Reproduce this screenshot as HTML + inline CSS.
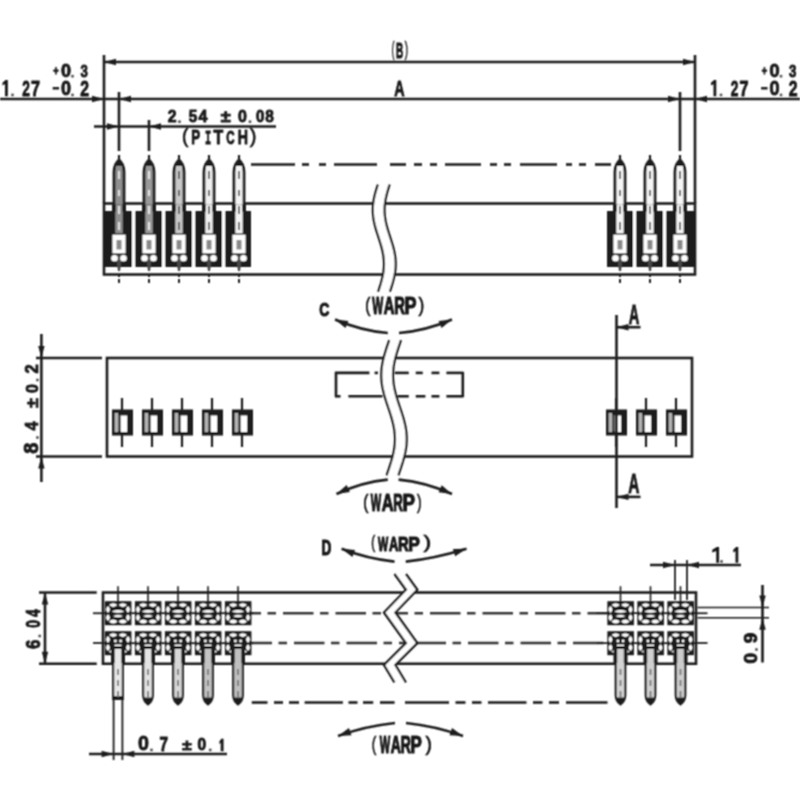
<!DOCTYPE html>
<html><head><meta charset="utf-8"><style>
html,body{margin:0;padding:0;background:#fff;}
svg{display:block;}
</style></head><body>
<svg width="800" height="800" viewBox="0 0 800 800">
<defs><filter id="bl" x="0" y="0" width="800" height="800" filterUnits="userSpaceOnUse"><feConvolveMatrix order="3" kernelMatrix="1 2 1 2 4 2 1 2 1" divisor="16" edgeMode="none" preserveAlpha="false"/></filter></defs>
<rect width="800" height="800" fill="#fff"/>
<g filter="url(#bl)">
<line x1="104" y1="55" x2="104" y2="203" stroke="#1c1c1c" stroke-width="2.6" />
<line x1="695" y1="55" x2="695" y2="203" stroke="#1c1c1c" stroke-width="2.6" />
<line x1="104" y1="62" x2="695" y2="62" stroke="#1c1c1c" stroke-width="2.6" />
<polygon points="104.00,62.00 116.00,58.80 116.00,65.20" fill="#1a1a1a" stroke="none" stroke-width="0"/>
<polygon points="695.00,62.00 683.00,65.20 683.00,58.80" fill="#1a1a1a" stroke="none" stroke-width="0"/>
<line x1="0" y1="99" x2="800" y2="99" stroke="#1c1c1c" stroke-width="2.6" />
<polygon points="104.00,99.00 92.00,102.20 92.00,95.80" fill="#1a1a1a" stroke="none" stroke-width="0"/>
<polygon points="119.00,99.00 131.00,95.80 131.00,102.20" fill="#1a1a1a" stroke="none" stroke-width="0"/>
<polygon points="680.00,99.00 668.00,102.20 668.00,95.80" fill="#1a1a1a" stroke="none" stroke-width="0"/>
<polygon points="695.00,99.00 707.00,95.80 707.00,102.20" fill="#1a1a1a" stroke="none" stroke-width="0"/>
<line x1="119" y1="92" x2="119" y2="151" stroke="#1c1c1c" stroke-width="2.6" />
<line x1="680" y1="92" x2="680" y2="151" stroke="#1c1c1c" stroke-width="2.6" />
<line x1="149" y1="120" x2="149" y2="151" stroke="#1c1c1c" stroke-width="2.6" />
<line x1="94" y1="126.5" x2="276" y2="126.5" stroke="#1c1c1c" stroke-width="2.6" />
<polygon points="119.00,126.50 107.00,129.70 107.00,123.30" fill="#1a1a1a" stroke="none" stroke-width="0"/>
<polygon points="149.00,126.50 161.00,123.30 161.00,129.70" fill="#1a1a1a" stroke="none" stroke-width="0"/>
<line x1="251" y1="164.5" x2="295" y2="164.5" stroke="#1c1c1c" stroke-width="2.6" />
<line x1="302" y1="164.5" x2="309" y2="164.5" stroke="#1c1c1c" stroke-width="2.6" />
<line x1="319" y1="164.5" x2="326" y2="164.5" stroke="#1c1c1c" stroke-width="2.6" />
<line x1="334" y1="164.5" x2="377" y2="164.5" stroke="#1c1c1c" stroke-width="2.6" />
<line x1="390" y1="164.5" x2="406" y2="164.5" stroke="#1c1c1c" stroke-width="2.6" />
<line x1="414" y1="164.5" x2="422" y2="164.5" stroke="#1c1c1c" stroke-width="2.6" />
<line x1="430" y1="164.5" x2="437" y2="164.5" stroke="#1c1c1c" stroke-width="2.6" />
<line x1="445" y1="164.5" x2="481" y2="164.5" stroke="#1c1c1c" stroke-width="2.6" />
<line x1="490" y1="164.5" x2="497" y2="164.5" stroke="#1c1c1c" stroke-width="2.6" />
<line x1="504" y1="164.5" x2="511" y2="164.5" stroke="#1c1c1c" stroke-width="2.6" />
<line x1="520" y1="164.5" x2="557" y2="164.5" stroke="#1c1c1c" stroke-width="2.6" />
<line x1="566" y1="164.5" x2="572" y2="164.5" stroke="#1c1c1c" stroke-width="2.6" />
<line x1="579" y1="164.5" x2="586" y2="164.5" stroke="#1c1c1c" stroke-width="2.6" />
<line x1="595" y1="164.5" x2="611" y2="164.5" stroke="#1c1c1c" stroke-width="2.6" />
<rect x="104" y="203.5" width="591" height="71" fill="none" stroke="#1c1c1c" stroke-width="2.6" />
<rect x="104" y="211" width="147" height="56" fill="#1a1a1a" stroke="none" stroke-width="2.6" />
<rect x="132" y="211" width="3.2" height="56" fill="#fff" stroke="none" stroke-width="2.6" />
<rect x="162" y="211" width="3.2" height="56" fill="#fff" stroke="none" stroke-width="2.6" />
<rect x="192" y="211" width="3.2" height="56" fill="#fff" stroke="none" stroke-width="2.6" />
<rect x="222" y="211" width="3.2" height="56" fill="#fff" stroke="none" stroke-width="2.6" />
<rect x="607" y="211" width="87" height="56" fill="#1a1a1a" stroke="none" stroke-width="2.6" />
<rect x="633" y="211" width="3.2" height="56" fill="#fff" stroke="none" stroke-width="2.6" />
<rect x="663" y="211" width="3.2" height="56" fill="#fff" stroke="none" stroke-width="2.6" />
<path d="M114,234 L114,172 Q114,164 119,160 Q124,164 124,172 L124,234" stroke="#1c1c1c" stroke-width="2.8" fill="#8f8f8f" />
<polygon points="115.00,166.00 119.00,160.50 123.00,166.00" fill="#1a1a1a" stroke="none" stroke-width="0"/>
<line x1="119" y1="155" x2="119" y2="162" stroke="#1c1c1c" stroke-width="2.2" />
<rect x="112" y="204.5" width="14" height="7" fill="#1a1a1a" stroke="none" stroke-width="2.6" />
<rect x="115.8" y="204.5" width="6.4" height="29" fill="#8f8f8f" stroke="none" stroke-width="2.6" />
<line x1="119" y1="171" x2="119" y2="179" stroke="#e8e8e8" stroke-width="1.8" />
<line x1="119" y1="190" x2="119" y2="196" stroke="#e8e8e8" stroke-width="1.8" />
<line x1="119" y1="206" x2="119" y2="214" stroke="#e8e8e8" stroke-width="1.8" />
<line x1="119" y1="222" x2="119" y2="230" stroke="#e8e8e8" stroke-width="1.8" />
<rect x="111.8" y="234" width="14.4" height="20" fill="#fff" stroke="#1a1a1a" stroke-width="1.2" />
<rect x="116.5" y="240" width="5" height="9.5" fill="#888" stroke="none" stroke-width="2.6" />
<polygon points="115.50,255.00 122.50,255.00 120.00,271.00 118.00,271.00" fill="#444" stroke="none" stroke-width="0"/>
<circle cx="114.5" cy="258.3" r="3.3" fill="#fff"/>
<circle cx="123.5" cy="258.3" r="3.3" fill="#fff"/>
<line x1="119" y1="275" x2="119" y2="277" stroke="#1c1c1c" stroke-width="2" />
<line x1="119" y1="279" x2="119" y2="283" stroke="#1c1c1c" stroke-width="2" />
<path d="M144,234 L144,172 Q144,164 149,160 Q154,164 154,172 L154,234" stroke="#1c1c1c" stroke-width="2.8" fill="#999" />
<polygon points="145.00,166.00 149.00,160.50 153.00,166.00" fill="#1a1a1a" stroke="none" stroke-width="0"/>
<line x1="149" y1="155" x2="149" y2="162" stroke="#1c1c1c" stroke-width="2.2" />
<rect x="142" y="204.5" width="14" height="7" fill="#1a1a1a" stroke="none" stroke-width="2.6" />
<rect x="145.8" y="204.5" width="6.4" height="29" fill="#999" stroke="none" stroke-width="2.6" />
<line x1="149" y1="171" x2="149" y2="179" stroke="#eee" stroke-width="1.8" />
<line x1="149" y1="190" x2="149" y2="196" stroke="#eee" stroke-width="1.8" />
<line x1="149" y1="206" x2="149" y2="214" stroke="#eee" stroke-width="1.8" />
<line x1="149" y1="222" x2="149" y2="230" stroke="#eee" stroke-width="1.8" />
<rect x="141.8" y="234" width="14.4" height="20" fill="#fff" stroke="#1a1a1a" stroke-width="1.2" />
<rect x="146.5" y="240" width="5" height="9.5" fill="#888" stroke="none" stroke-width="2.6" />
<polygon points="145.50,255.00 152.50,255.00 150.00,271.00 148.00,271.00" fill="#444" stroke="none" stroke-width="0"/>
<circle cx="144.5" cy="258.3" r="3.3" fill="#fff"/>
<circle cx="153.5" cy="258.3" r="3.3" fill="#fff"/>
<line x1="149" y1="275" x2="149" y2="277" stroke="#1c1c1c" stroke-width="2" />
<line x1="149" y1="279" x2="149" y2="283" stroke="#1c1c1c" stroke-width="2" />
<path d="M174,234 L174,172 Q174,164 179,160 Q184,164 184,172 L184,234" stroke="#1c1c1c" stroke-width="2.8" fill="#c8c8c8" />
<polygon points="175.00,166.00 179.00,160.50 183.00,166.00" fill="#1a1a1a" stroke="none" stroke-width="0"/>
<line x1="179" y1="155" x2="179" y2="162" stroke="#1c1c1c" stroke-width="2.2" />
<rect x="172" y="204.5" width="14" height="7" fill="#1a1a1a" stroke="none" stroke-width="2.6" />
<rect x="175.8" y="204.5" width="6.4" height="29" fill="#c8c8c8" stroke="none" stroke-width="2.6" />
<line x1="179" y1="171" x2="179" y2="179" stroke="#555" stroke-width="1.8" />
<line x1="179" y1="190" x2="179" y2="196" stroke="#555" stroke-width="1.8" />
<line x1="179" y1="206" x2="179" y2="214" stroke="#555" stroke-width="1.8" />
<line x1="179" y1="222" x2="179" y2="230" stroke="#555" stroke-width="1.8" />
<rect x="171.8" y="234" width="14.4" height="20" fill="#fff" stroke="#1a1a1a" stroke-width="1.2" />
<rect x="176.5" y="240" width="5" height="9.5" fill="#888" stroke="none" stroke-width="2.6" />
<polygon points="175.50,255.00 182.50,255.00 180.00,271.00 178.00,271.00" fill="#444" stroke="none" stroke-width="0"/>
<circle cx="174.5" cy="258.3" r="3.3" fill="#fff"/>
<circle cx="183.5" cy="258.3" r="3.3" fill="#fff"/>
<line x1="179" y1="275" x2="179" y2="277" stroke="#1c1c1c" stroke-width="2" />
<line x1="179" y1="279" x2="179" y2="283" stroke="#1c1c1c" stroke-width="2" />
<path d="M204,234 L204,172 Q204,164 209,160 Q214,164 214,172 L214,234" stroke="#1c1c1c" stroke-width="2.8" fill="#f0f0f0" />
<polygon points="205.00,166.00 209.00,160.50 213.00,166.00" fill="#1a1a1a" stroke="none" stroke-width="0"/>
<line x1="209" y1="155" x2="209" y2="162" stroke="#1c1c1c" stroke-width="2.2" />
<rect x="202" y="204.5" width="14" height="7" fill="#1a1a1a" stroke="none" stroke-width="2.6" />
<rect x="205.8" y="204.5" width="6.4" height="29" fill="#f0f0f0" stroke="none" stroke-width="2.6" />
<line x1="209" y1="171" x2="209" y2="179" stroke="#555" stroke-width="1.8" />
<line x1="209" y1="190" x2="209" y2="196" stroke="#555" stroke-width="1.8" />
<line x1="209" y1="206" x2="209" y2="214" stroke="#555" stroke-width="1.8" />
<line x1="209" y1="222" x2="209" y2="230" stroke="#555" stroke-width="1.8" />
<rect x="201.8" y="234" width="14.4" height="20" fill="#fff" stroke="#1a1a1a" stroke-width="1.2" />
<rect x="206.5" y="240" width="5" height="9.5" fill="#888" stroke="none" stroke-width="2.6" />
<polygon points="205.50,255.00 212.50,255.00 210.00,271.00 208.00,271.00" fill="#444" stroke="none" stroke-width="0"/>
<circle cx="204.5" cy="258.3" r="3.3" fill="#fff"/>
<circle cx="213.5" cy="258.3" r="3.3" fill="#fff"/>
<line x1="209" y1="275" x2="209" y2="277" stroke="#1c1c1c" stroke-width="2" />
<line x1="209" y1="279" x2="209" y2="283" stroke="#1c1c1c" stroke-width="2" />
<path d="M234,234 L234,172 Q234,164 239,160 Q244,164 244,172 L244,234" stroke="#1c1c1c" stroke-width="2.8" fill="#f4f4f4" />
<polygon points="235.00,166.00 239.00,160.50 243.00,166.00" fill="#1a1a1a" stroke="none" stroke-width="0"/>
<line x1="239" y1="155" x2="239" y2="162" stroke="#1c1c1c" stroke-width="2.2" />
<rect x="232" y="204.5" width="14" height="7" fill="#1a1a1a" stroke="none" stroke-width="2.6" />
<rect x="235.8" y="204.5" width="6.4" height="29" fill="#f4f4f4" stroke="none" stroke-width="2.6" />
<line x1="239" y1="171" x2="239" y2="179" stroke="#555" stroke-width="1.8" />
<line x1="239" y1="190" x2="239" y2="196" stroke="#555" stroke-width="1.8" />
<line x1="239" y1="206" x2="239" y2="214" stroke="#555" stroke-width="1.8" />
<line x1="239" y1="222" x2="239" y2="230" stroke="#555" stroke-width="1.8" />
<rect x="231.8" y="234" width="14.4" height="20" fill="#fff" stroke="#1a1a1a" stroke-width="1.2" />
<rect x="236.5" y="240" width="5" height="9.5" fill="#888" stroke="none" stroke-width="2.6" />
<polygon points="235.50,255.00 242.50,255.00 240.00,271.00 238.00,271.00" fill="#444" stroke="none" stroke-width="0"/>
<circle cx="234.5" cy="258.3" r="3.3" fill="#fff"/>
<circle cx="243.5" cy="258.3" r="3.3" fill="#fff"/>
<line x1="239" y1="275" x2="239" y2="277" stroke="#1c1c1c" stroke-width="2" />
<line x1="239" y1="279" x2="239" y2="283" stroke="#1c1c1c" stroke-width="2" />
<path d="M615,234 L615,172 Q615,164 620,160 Q625,164 625,172 L625,234" stroke="#1c1c1c" stroke-width="2.8" fill="#f6f6f6" />
<polygon points="616.00,166.00 620.00,160.50 624.00,166.00" fill="#1a1a1a" stroke="none" stroke-width="0"/>
<line x1="620" y1="155" x2="620" y2="162" stroke="#1c1c1c" stroke-width="2.2" />
<rect x="613" y="204.5" width="14" height="7" fill="#1a1a1a" stroke="none" stroke-width="2.6" />
<rect x="616.8" y="204.5" width="6.4" height="29" fill="#f6f6f6" stroke="none" stroke-width="2.6" />
<line x1="620" y1="171" x2="620" y2="179" stroke="#555" stroke-width="1.8" />
<line x1="620" y1="190" x2="620" y2="196" stroke="#555" stroke-width="1.8" />
<line x1="620" y1="206" x2="620" y2="214" stroke="#555" stroke-width="1.8" />
<line x1="620" y1="222" x2="620" y2="230" stroke="#555" stroke-width="1.8" />
<rect x="612.8" y="234" width="14.4" height="20" fill="#fff" stroke="#1a1a1a" stroke-width="1.2" />
<rect x="617.5" y="240" width="5" height="9.5" fill="#888" stroke="none" stroke-width="2.6" />
<polygon points="616.50,255.00 623.50,255.00 621.00,271.00 619.00,271.00" fill="#444" stroke="none" stroke-width="0"/>
<circle cx="615.5" cy="258.3" r="3.3" fill="#fff"/>
<circle cx="624.5" cy="258.3" r="3.3" fill="#fff"/>
<line x1="620" y1="275" x2="620" y2="277" stroke="#1c1c1c" stroke-width="2" />
<line x1="620" y1="279" x2="620" y2="283" stroke="#1c1c1c" stroke-width="2" />
<path d="M645,234 L645,172 Q645,164 650,160 Q655,164 655,172 L655,234" stroke="#1c1c1c" stroke-width="2.8" fill="#f6f6f6" />
<polygon points="646.00,166.00 650.00,160.50 654.00,166.00" fill="#1a1a1a" stroke="none" stroke-width="0"/>
<line x1="650" y1="155" x2="650" y2="162" stroke="#1c1c1c" stroke-width="2.2" />
<rect x="643" y="204.5" width="14" height="7" fill="#1a1a1a" stroke="none" stroke-width="2.6" />
<rect x="646.8" y="204.5" width="6.4" height="29" fill="#f6f6f6" stroke="none" stroke-width="2.6" />
<line x1="650" y1="171" x2="650" y2="179" stroke="#555" stroke-width="1.8" />
<line x1="650" y1="190" x2="650" y2="196" stroke="#555" stroke-width="1.8" />
<line x1="650" y1="206" x2="650" y2="214" stroke="#555" stroke-width="1.8" />
<line x1="650" y1="222" x2="650" y2="230" stroke="#555" stroke-width="1.8" />
<rect x="642.8" y="234" width="14.4" height="20" fill="#fff" stroke="#1a1a1a" stroke-width="1.2" />
<rect x="647.5" y="240" width="5" height="9.5" fill="#888" stroke="none" stroke-width="2.6" />
<polygon points="646.50,255.00 653.50,255.00 651.00,271.00 649.00,271.00" fill="#444" stroke="none" stroke-width="0"/>
<circle cx="645.5" cy="258.3" r="3.3" fill="#fff"/>
<circle cx="654.5" cy="258.3" r="3.3" fill="#fff"/>
<line x1="650" y1="275" x2="650" y2="277" stroke="#1c1c1c" stroke-width="2" />
<line x1="650" y1="279" x2="650" y2="283" stroke="#1c1c1c" stroke-width="2" />
<path d="M675,234 L675,172 Q675,164 680,160 Q685,164 685,172 L685,234" stroke="#1c1c1c" stroke-width="2.8" fill="#f6f6f6" />
<polygon points="676.00,166.00 680.00,160.50 684.00,166.00" fill="#1a1a1a" stroke="none" stroke-width="0"/>
<line x1="680" y1="155" x2="680" y2="162" stroke="#1c1c1c" stroke-width="2.2" />
<rect x="673" y="204.5" width="14" height="7" fill="#1a1a1a" stroke="none" stroke-width="2.6" />
<rect x="676.8" y="204.5" width="6.4" height="29" fill="#f6f6f6" stroke="none" stroke-width="2.6" />
<line x1="680" y1="171" x2="680" y2="179" stroke="#555" stroke-width="1.8" />
<line x1="680" y1="190" x2="680" y2="196" stroke="#555" stroke-width="1.8" />
<line x1="680" y1="206" x2="680" y2="214" stroke="#555" stroke-width="1.8" />
<line x1="680" y1="222" x2="680" y2="230" stroke="#555" stroke-width="1.8" />
<rect x="672.8" y="234" width="14.4" height="20" fill="#fff" stroke="#1a1a1a" stroke-width="1.2" />
<rect x="677.5" y="240" width="5" height="9.5" fill="#888" stroke="none" stroke-width="2.6" />
<polygon points="676.50,255.00 683.50,255.00 681.00,271.00 679.00,271.00" fill="#444" stroke="none" stroke-width="0"/>
<circle cx="675.5" cy="258.3" r="3.3" fill="#fff"/>
<circle cx="684.5" cy="258.3" r="3.3" fill="#fff"/>
<line x1="680" y1="275" x2="680" y2="277" stroke="#1c1c1c" stroke-width="2" />
<line x1="680" y1="279" x2="680" y2="283" stroke="#1c1c1c" stroke-width="2" />
<polygon points="377.91,184.50 377.05,187.18 376.22,189.86 375.45,192.54 374.74,195.22 374.13,197.91 373.62,200.59 373.22,203.27 372.95,205.95 372.82,208.63 372.82,211.31 372.95,213.99 373.22,216.68 373.61,219.36 374.12,222.04 374.73,224.72 375.43,227.40 376.21,230.08 377.03,232.76 377.89,235.44 378.77,238.12 379.63,240.81 380.46,243.49 381.25,246.17 381.96,248.85 382.59,251.53 383.12,254.21 383.53,256.89 383.82,259.57 383.97,262.26 383.99,264.94 383.88,267.62 383.63,270.30 383.25,272.98 382.76,275.66 382.16,278.34 381.47,281.02 380.71,283.71 379.88,286.39 379.03,289.07 378.16,291.75 389.86,291.75 390.73,289.07 391.58,286.39 392.41,283.71 393.17,281.02 393.86,278.34 394.46,275.66 394.95,272.98 395.33,270.30 395.58,267.62 395.69,264.94 395.67,262.26 395.52,259.57 395.23,256.89 394.82,254.21 394.29,251.53 393.66,248.85 392.95,246.17 392.16,243.49 391.33,240.81 390.47,238.12 389.59,235.44 388.73,232.76 387.91,230.08 387.13,227.40 386.43,224.72 385.82,222.04 385.31,219.36 384.92,216.68 384.65,213.99 384.52,211.31 384.52,208.63 384.65,205.95 384.92,203.27 385.32,200.59 385.83,197.91 386.44,195.22 387.15,192.54 387.92,189.86 388.75,187.18 389.61,184.50" fill="#fff" stroke="none" stroke-width="0"/>
<path d="M377.91,184.50 L377.05,187.18 L376.22,189.86 L375.45,192.54 L374.74,195.22 L374.13,197.91 L373.62,200.59 L373.22,203.27 L372.95,205.95 L372.82,208.63 L372.82,211.31 L372.95,213.99 L373.22,216.68 L373.61,219.36 L374.12,222.04 L374.73,224.72 L375.43,227.40 L376.21,230.08 L377.03,232.76 L377.89,235.44 L378.77,238.12 L379.63,240.81 L380.46,243.49 L381.25,246.17 L381.96,248.85 L382.59,251.53 L383.12,254.21 L383.53,256.89 L383.82,259.57 L383.97,262.26 L383.99,264.94 L383.88,267.62 L383.63,270.30 L383.25,272.98 L382.76,275.66 L382.16,278.34 L381.47,281.02 L380.71,283.71 L379.88,286.39 L379.03,289.07 L378.16,291.75" stroke="#1c1c1c" stroke-width="2.2" fill="none" />
<path d="M389.61,184.50 L388.75,187.18 L387.92,189.86 L387.15,192.54 L386.44,195.22 L385.83,197.91 L385.32,200.59 L384.92,203.27 L384.65,205.95 L384.52,208.63 L384.52,211.31 L384.65,213.99 L384.92,216.68 L385.31,219.36 L385.82,222.04 L386.43,224.72 L387.13,227.40 L387.91,230.08 L388.73,232.76 L389.59,235.44 L390.47,238.12 L391.33,240.81 L392.16,243.49 L392.95,246.17 L393.66,248.85 L394.29,251.53 L394.82,254.21 L395.23,256.89 L395.52,259.57 L395.67,262.26 L395.69,264.94 L395.58,267.62 L395.33,270.30 L394.95,272.98 L394.46,275.66 L393.86,278.34 L393.17,281.02 L392.41,283.71 L391.58,286.39 L390.73,289.07 L389.86,291.75" stroke="#1c1c1c" stroke-width="2.2" fill="none" />
<path d="M387.75,333 Q362,331 335,319.5" stroke="#1c1c1c" stroke-width="2.6" fill="none" />
<polygon points="335.00,319.50 348.45,321.10 345.47,328.09" fill="#1a1a1a" stroke="none" stroke-width="0"/>
<path d="M399,333 Q425,331 452,319.5" stroke="#1c1c1c" stroke-width="2.6" fill="none" />
<polygon points="452.00,319.50 441.53,328.09 438.55,321.10" fill="#1a1a1a" stroke="none" stroke-width="0"/>
<line x1="41.4" y1="334" x2="41.4" y2="482" stroke="#1c1c1c" stroke-width="2.6" />
<polygon points="41.40,358.00 38.20,346.00 44.60,346.00" fill="#1a1a1a" stroke="none" stroke-width="0"/>
<polygon points="41.40,456.50 44.60,468.50 38.20,468.50" fill="#1a1a1a" stroke="none" stroke-width="0"/>
<line x1="36" y1="358" x2="102" y2="358" stroke="#1c1c1c" stroke-width="2.6" />
<line x1="36" y1="456.5" x2="102" y2="456.5" stroke="#1c1c1c" stroke-width="2.6" />
<rect x="107" y="358" width="585" height="98.5" fill="none" stroke="#1c1c1c" stroke-width="2.6" />
<line x1="336" y1="372" x2="336" y2="397" stroke="#1c1c1c" stroke-width="2.6" />
<line x1="462.8" y1="372" x2="462.8" y2="397" stroke="#1c1c1c" stroke-width="2.6" />
<line x1="335" y1="372.9" x2="369.4" y2="372.9" stroke="#1c1c1c" stroke-width="2.6" />
<line x1="374.6" y1="372.9" x2="378" y2="372.9" stroke="#1c1c1c" stroke-width="2.6" />
<line x1="394.75" y1="372.9" x2="408.75" y2="372.9" stroke="#1c1c1c" stroke-width="2.6" />
<line x1="415.75" y1="372.9" x2="422.75" y2="372.9" stroke="#1c1c1c" stroke-width="2.6" />
<line x1="431.5" y1="372.9" x2="439.4" y2="372.9" stroke="#1c1c1c" stroke-width="2.6" />
<line x1="446.4" y1="372.9" x2="463.5" y2="372.9" stroke="#1c1c1c" stroke-width="2.6" />
<line x1="335" y1="396.3" x2="340.5" y2="396.3" stroke="#1c1c1c" stroke-width="2.6" />
<line x1="348.4" y1="396.3" x2="382.5" y2="396.3" stroke="#1c1c1c" stroke-width="2.6" />
<line x1="397.4" y1="396.3" x2="408.75" y2="396.3" stroke="#1c1c1c" stroke-width="2.6" />
<line x1="415.75" y1="396.3" x2="425.4" y2="396.3" stroke="#1c1c1c" stroke-width="2.6" />
<line x1="431.5" y1="396.3" x2="439.4" y2="396.3" stroke="#1c1c1c" stroke-width="2.6" />
<line x1="446.4" y1="396.3" x2="463.5" y2="396.3" stroke="#1c1c1c" stroke-width="2.6" />
<line x1="122" y1="398" x2="122" y2="447" stroke="#1c1c1c" stroke-width="2.2" />
<rect x="112" y="409.5" width="21" height="26" fill="#1a1a1a" stroke="none" stroke-width="2.6" />
<rect x="114.6" y="413" width="3.4" height="19" fill="#b4b4b4" stroke="none" stroke-width="2.6" />
<rect x="118" y="415" width="2.8" height="16" fill="#4a4a4a" stroke="none" stroke-width="2.6" />
<rect x="120.8" y="415.5" width="6.4" height="16.5" fill="#fff" stroke="none" stroke-width="2.6" />
<line x1="152" y1="398" x2="152" y2="447" stroke="#1c1c1c" stroke-width="2.2" />
<rect x="142" y="409.5" width="21" height="26" fill="#1a1a1a" stroke="none" stroke-width="2.6" />
<rect x="144.6" y="413" width="3.4" height="19" fill="#b4b4b4" stroke="none" stroke-width="2.6" />
<rect x="148" y="415" width="2.8" height="16" fill="#4a4a4a" stroke="none" stroke-width="2.6" />
<rect x="150.8" y="415.5" width="6.4" height="16.5" fill="#fff" stroke="none" stroke-width="2.6" />
<line x1="182" y1="398" x2="182" y2="447" stroke="#1c1c1c" stroke-width="2.2" />
<rect x="172" y="409.5" width="21" height="26" fill="#1a1a1a" stroke="none" stroke-width="2.6" />
<rect x="174.6" y="413" width="3.4" height="19" fill="#b4b4b4" stroke="none" stroke-width="2.6" />
<rect x="178" y="415" width="2.8" height="16" fill="#4a4a4a" stroke="none" stroke-width="2.6" />
<rect x="180.8" y="415.5" width="6.4" height="16.5" fill="#fff" stroke="none" stroke-width="2.6" />
<line x1="212" y1="398" x2="212" y2="447" stroke="#1c1c1c" stroke-width="2.2" />
<rect x="202" y="409.5" width="21" height="26" fill="#1a1a1a" stroke="none" stroke-width="2.6" />
<rect x="204.6" y="413" width="3.4" height="19" fill="#b4b4b4" stroke="none" stroke-width="2.6" />
<rect x="208" y="415" width="2.8" height="16" fill="#4a4a4a" stroke="none" stroke-width="2.6" />
<rect x="210.8" y="415.5" width="6.4" height="16.5" fill="#fff" stroke="none" stroke-width="2.6" />
<line x1="242" y1="398" x2="242" y2="447" stroke="#1c1c1c" stroke-width="2.2" />
<rect x="232" y="409.5" width="21" height="26" fill="#1a1a1a" stroke="none" stroke-width="2.6" />
<rect x="234.6" y="413" width="3.4" height="19" fill="#b4b4b4" stroke="none" stroke-width="2.6" />
<rect x="238" y="415" width="2.8" height="16" fill="#4a4a4a" stroke="none" stroke-width="2.6" />
<rect x="240.8" y="415.5" width="6.4" height="16.5" fill="#fff" stroke="none" stroke-width="2.6" />
<line x1="616" y1="398" x2="616" y2="447" stroke="#1c1c1c" stroke-width="2.2" />
<rect x="606" y="409.5" width="21" height="26" fill="#1a1a1a" stroke="none" stroke-width="2.6" />
<rect x="608.6" y="413" width="3.4" height="19" fill="#b4b4b4" stroke="none" stroke-width="2.6" />
<rect x="612" y="415" width="2.8" height="16" fill="#4a4a4a" stroke="none" stroke-width="2.6" />
<rect x="614.8" y="415.5" width="6.4" height="16.5" fill="#fff" stroke="none" stroke-width="2.6" />
<line x1="646" y1="398" x2="646" y2="447" stroke="#1c1c1c" stroke-width="2.2" />
<rect x="636" y="409.5" width="21" height="26" fill="#1a1a1a" stroke="none" stroke-width="2.6" />
<rect x="638.6" y="413" width="3.4" height="19" fill="#b4b4b4" stroke="none" stroke-width="2.6" />
<rect x="642" y="415" width="2.8" height="16" fill="#4a4a4a" stroke="none" stroke-width="2.6" />
<rect x="644.8" y="415.5" width="6.4" height="16.5" fill="#fff" stroke="none" stroke-width="2.6" />
<line x1="676" y1="398" x2="676" y2="447" stroke="#1c1c1c" stroke-width="2.2" />
<rect x="666" y="409.5" width="21" height="26" fill="#1a1a1a" stroke="none" stroke-width="2.6" />
<rect x="668.6" y="413" width="3.4" height="19" fill="#b4b4b4" stroke="none" stroke-width="2.6" />
<rect x="672" y="415" width="2.8" height="16" fill="#4a4a4a" stroke="none" stroke-width="2.6" />
<rect x="674.8" y="415.5" width="6.4" height="16.5" fill="#fff" stroke="none" stroke-width="2.6" />
<line x1="616.5" y1="315" x2="616.5" y2="508" stroke="#1c1c1c" stroke-width="2.6" />
<line x1="616.5" y1="327.2" x2="640.5" y2="327.2" stroke="#1c1c1c" stroke-width="2.6" />
<polygon points="616.50,327.20 628.50,324.00 628.50,330.40" fill="#1a1a1a" stroke="none" stroke-width="0"/>
<line x1="616.5" y1="496.9" x2="640.5" y2="496.9" stroke="#1c1c1c" stroke-width="2.6" />
<polygon points="616.50,496.90 628.50,493.70 628.50,500.10" fill="#1a1a1a" stroke="none" stroke-width="0"/>
<polygon points="389.24,340.20 388.11,343.58 386.97,346.95 385.87,350.33 384.83,353.71 383.88,357.09 383.05,360.46 382.36,363.84 381.84,367.22 381.48,370.60 381.31,373.98 381.34,377.35 381.54,380.73 381.94,384.11 382.50,387.49 383.22,390.86 384.08,394.24 385.05,397.62 386.10,401.00 387.21,404.37 388.35,407.75 389.49,411.13 390.58,414.50 391.61,417.88 392.54,421.26 393.35,424.64 394.02,428.01 394.52,431.39 394.85,434.77 394.99,438.15 394.95,441.52 394.71,444.90 394.30,448.28 393.71,451.66 392.97,455.03 392.09,458.41 391.11,461.79 390.04,465.17 388.93,468.55 387.79,471.92 386.66,475.30 398.36,475.30 399.49,471.92 400.63,468.55 401.74,465.17 402.81,461.79 403.79,458.41 404.67,455.03 405.41,451.66 406.00,448.28 406.41,444.90 406.65,441.52 406.69,438.15 406.55,434.77 406.22,431.39 405.72,428.01 405.05,424.64 404.24,421.26 403.31,417.88 402.28,414.50 401.19,411.13 400.05,407.75 398.91,404.37 397.80,401.00 396.75,397.62 395.78,394.24 394.92,390.86 394.20,387.49 393.64,384.11 393.24,380.73 393.04,377.35 393.01,373.98 393.18,370.60 393.54,367.22 394.06,363.84 394.75,360.46 395.58,357.09 396.53,353.71 397.57,350.33 398.67,346.95 399.81,343.58 400.94,340.20" fill="#fff" stroke="none" stroke-width="0"/>
<path d="M389.24,340.20 L388.11,343.58 L386.97,346.95 L385.87,350.33 L384.83,353.71 L383.88,357.09 L383.05,360.46 L382.36,363.84 L381.84,367.22 L381.48,370.60 L381.31,373.98 L381.34,377.35 L381.54,380.73 L381.94,384.11 L382.50,387.49 L383.22,390.86 L384.08,394.24 L385.05,397.62 L386.10,401.00 L387.21,404.37 L388.35,407.75 L389.49,411.13 L390.58,414.50 L391.61,417.88 L392.54,421.26 L393.35,424.64 L394.02,428.01 L394.52,431.39 L394.85,434.77 L394.99,438.15 L394.95,441.52 L394.71,444.90 L394.30,448.28 L393.71,451.66 L392.97,455.03 L392.09,458.41 L391.11,461.79 L390.04,465.17 L388.93,468.55 L387.79,471.92 L386.66,475.30" stroke="#1c1c1c" stroke-width="2.2" fill="none" />
<path d="M400.94,340.20 L399.81,343.58 L398.67,346.95 L397.57,350.33 L396.53,353.71 L395.58,357.09 L394.75,360.46 L394.06,363.84 L393.54,367.22 L393.18,370.60 L393.01,373.98 L393.04,377.35 L393.24,380.73 L393.64,384.11 L394.20,387.49 L394.92,390.86 L395.78,394.24 L396.75,397.62 L397.80,401.00 L398.91,404.37 L400.05,407.75 L401.19,411.13 L402.28,414.50 L403.31,417.88 L404.24,421.26 L405.05,424.64 L405.72,428.01 L406.22,431.39 L406.55,434.77 L406.69,438.15 L406.65,441.52 L406.41,444.90 L406.00,448.28 L405.41,451.66 L404.67,455.03 L403.79,458.41 L402.81,461.79 L401.74,465.17 L400.63,468.55 L399.49,471.92 L398.36,475.30" stroke="#1c1c1c" stroke-width="2.2" fill="none" />
<path d="M387.75,479.6 Q362,482 336.5,494" stroke="#1c1c1c" stroke-width="2.6" fill="none" />
<polygon points="336.50,494.00 346.64,485.03 349.88,491.90" fill="#1a1a1a" stroke="none" stroke-width="0"/>
<path d="M398.6,479.6 Q425,482 452,494" stroke="#1c1c1c" stroke-width="2.6" fill="none" />
<polygon points="452.00,494.00 438.58,492.19 441.66,485.25" fill="#1a1a1a" stroke="none" stroke-width="0"/>
<line x1="45" y1="592.5" x2="45" y2="663.75" stroke="#1c1c1c" stroke-width="2.6" />
<polygon points="45.00,592.50 48.20,604.50 41.80,604.50" fill="#1a1a1a" stroke="none" stroke-width="0"/>
<polygon points="45.00,663.75 41.80,651.75 48.20,651.75" fill="#1a1a1a" stroke="none" stroke-width="0"/>
<line x1="39" y1="592.5" x2="96.75" y2="592.5" stroke="#1c1c1c" stroke-width="2.6" />
<line x1="39" y1="663.75" x2="96.75" y2="663.75" stroke="#1c1c1c" stroke-width="2.6" />
<rect x="103" y="592.5" width="593" height="71.25" fill="none" stroke="#1c1c1c" stroke-width="2.6" />
<line x1="93" y1="613.25" x2="104" y2="613.25" stroke="#1c1c1c" stroke-width="1.8" />
<line x1="93" y1="643" x2="104" y2="643" stroke="#1c1c1c" stroke-width="1.8" />
<line x1="696" y1="613.25" x2="707.5" y2="613.25" stroke="#1c1c1c" stroke-width="1.8" />
<line x1="696" y1="643" x2="707.5" y2="643" stroke="#1c1c1c" stroke-width="1.8" />
<path d="M250,613.25 H384" stroke="#363636" stroke-width="2.6" fill="none" stroke-dasharray="30.5 6.5 8.5 7" stroke-dashoffset="19.5"/>
<path d="M396,613.25 H608" stroke="#363636" stroke-width="2.6" fill="none" stroke-dasharray="30.5 6.5 8.5 7" stroke-dashoffset="18.5"/>
<path d="M250,643 H405" stroke="#363636" stroke-width="2.6" fill="none" stroke-dasharray="30.5 6.5 8.5 7" stroke-dashoffset="8.5"/>
<path d="M417,643 H608" stroke="#363636" stroke-width="2.6" fill="none" stroke-dasharray="30.5 6.5 8.5 7" stroke-dashoffset="1.5"/>
<line x1="251.75" y1="702.5" x2="267.5" y2="702.5" stroke="#1c1c1c" stroke-width="2.6" />
<line x1="274" y1="702.5" x2="283" y2="702.5" stroke="#1c1c1c" stroke-width="2.6" />
<line x1="289" y1="702.5" x2="299" y2="702.5" stroke="#1c1c1c" stroke-width="2.6" />
<line x1="304.6" y1="702.5" x2="342.9" y2="702.5" stroke="#1c1c1c" stroke-width="2.6" />
<line x1="348.5" y1="702.5" x2="357.5" y2="702.5" stroke="#1c1c1c" stroke-width="2.6" />
<line x1="363" y1="702.5" x2="373.25" y2="702.5" stroke="#1c1c1c" stroke-width="2.6" />
<line x1="380" y1="702.5" x2="394.6" y2="702.5" stroke="#1c1c1c" stroke-width="2.6" />
<line x1="405" y1="702.5" x2="449" y2="702.5" stroke="#1c1c1c" stroke-width="2.6" />
<line x1="455.5" y1="702.5" x2="465.5" y2="702.5" stroke="#1c1c1c" stroke-width="2.6" />
<line x1="472" y1="702.5" x2="481.5" y2="702.5" stroke="#1c1c1c" stroke-width="2.6" />
<line x1="488" y1="702.5" x2="526.5" y2="702.5" stroke="#1c1c1c" stroke-width="2.6" />
<line x1="533" y1="702.5" x2="542.5" y2="702.5" stroke="#1c1c1c" stroke-width="2.6" />
<line x1="549" y1="702.5" x2="559" y2="702.5" stroke="#1c1c1c" stroke-width="2.6" />
<line x1="566" y1="702.5" x2="607.5" y2="702.5" stroke="#1c1c1c" stroke-width="2.6" />
<polygon points="394.50,574.00 405.90,589.75 384.00,612.50 405.90,643.10 384.00,665.00 394.50,682.50 405.90,682.50 395.40,665.00 417.30,643.10 395.40,612.50 417.30,589.75 405.90,574.00" fill="#fff" stroke="none" stroke-width="0"/>
<path d="M394.5,574 L405.9,589.75 L384,612.5 L405.9,643.1 L384,665 L394.5,682.5" stroke="#1c1c1c" stroke-width="2.4" fill="none" stroke-linejoin="miter"/>
<path d="M405.9,574 L417.29999999999995,589.75 L395.4,612.5 L417.29999999999995,643.1 L395.4,665 L405.9,682.5" stroke="#1c1c1c" stroke-width="2.4" fill="none" stroke-linejoin="miter"/>
<line x1="102.9" y1="613.2" x2="133.4" y2="613.2" stroke="#1c1c1c" stroke-width="1.8" />
<rect x="104.9" y="601.2" width="26.5" height="24.0" fill="#1a1a1a" stroke="none" stroke-width="2.6" />
<path d="M109.00,605.10 Q113.20,601.50 117.40,605.10 Q113.20,608.70 109.00,605.10 Z" fill="#fff"/>
<path d="M109.00,621.50 Q113.20,617.70 117.40,621.50 Q113.20,625.30 109.00,621.50 Z" fill="#fff"/>
<path d="M108.00,606.10 Q104.20,609.50 108.00,612.90 Q111.80,609.50 108.00,606.10 Z" fill="#fff"/>
<path d="M108.00,614.20 Q104.20,617.60 108.00,621.00 Q111.80,617.60 108.00,614.20 Z" fill="#fff"/>
<path d="M118.60,605.10 Q122.80,601.50 127.00,605.10 Q122.80,608.70 118.60,605.10 Z" fill="#fff"/>
<path d="M118.60,621.50 Q122.80,617.70 127.00,621.50 Q122.80,625.30 118.60,621.50 Z" fill="#fff"/>
<path d="M128.00,606.10 Q124.20,609.50 128.00,612.90 Q131.80,609.50 128.00,606.10 Z" fill="#fff"/>
<path d="M128.00,614.20 Q124.20,617.60 128.00,621.00 Q131.80,617.60 128.00,614.20 Z" fill="#fff"/>
<path d="M111.80,611.40 Q118.00,608.80 124.20,611.40 Q118.00,614.00 111.80,611.40 Z" fill="#fff"/>
<path d="M112.80,616.10 Q118.00,613.70 123.20,616.10 Q118.00,618.50 112.80,616.10 Z" fill="#fff"/>
<line x1="118" y1="586.2" x2="118" y2="602.2" stroke="#1c1c1c" stroke-width="1.6" />
<line x1="102.9" y1="643.2" x2="133.4" y2="643.2" stroke="#1c1c1c" stroke-width="1.8" />
<rect x="104.9" y="631.2" width="26.5" height="24.0" fill="#1a1a1a" stroke="none" stroke-width="2.6" />
<path d="M109.00,635.10 Q113.20,631.50 117.40,635.10 Q113.20,638.70 109.00,635.10 Z" fill="#fff"/>
<path d="M109.00,651.50 Q113.20,647.70 117.40,651.50 Q113.20,655.30 109.00,651.50 Z" fill="#fff"/>
<path d="M108.00,636.10 Q104.20,639.50 108.00,642.90 Q111.80,639.50 108.00,636.10 Z" fill="#fff"/>
<path d="M108.00,644.20 Q104.20,647.60 108.00,651.00 Q111.80,647.60 108.00,644.20 Z" fill="#fff"/>
<path d="M118.60,635.10 Q122.80,631.50 127.00,635.10 Q122.80,638.70 118.60,635.10 Z" fill="#fff"/>
<path d="M118.60,651.50 Q122.80,647.70 127.00,651.50 Q122.80,655.30 118.60,651.50 Z" fill="#fff"/>
<path d="M128.00,636.10 Q124.20,639.50 128.00,642.90 Q131.80,639.50 128.00,636.10 Z" fill="#fff"/>
<path d="M128.00,644.20 Q124.20,647.60 128.00,651.00 Q131.80,647.60 128.00,644.20 Z" fill="#fff"/>
<line x1="132.9" y1="613.2" x2="163.4" y2="613.2" stroke="#1c1c1c" stroke-width="1.8" />
<rect x="134.9" y="601.2" width="26.5" height="24.0" fill="#1a1a1a" stroke="none" stroke-width="2.6" />
<path d="M139.00,605.10 Q143.20,601.50 147.40,605.10 Q143.20,608.70 139.00,605.10 Z" fill="#fff"/>
<path d="M139.00,621.50 Q143.20,617.70 147.40,621.50 Q143.20,625.30 139.00,621.50 Z" fill="#fff"/>
<path d="M138.00,606.10 Q134.20,609.50 138.00,612.90 Q141.80,609.50 138.00,606.10 Z" fill="#fff"/>
<path d="M138.00,614.20 Q134.20,617.60 138.00,621.00 Q141.80,617.60 138.00,614.20 Z" fill="#fff"/>
<path d="M148.60,605.10 Q152.80,601.50 157.00,605.10 Q152.80,608.70 148.60,605.10 Z" fill="#fff"/>
<path d="M148.60,621.50 Q152.80,617.70 157.00,621.50 Q152.80,625.30 148.60,621.50 Z" fill="#fff"/>
<path d="M158.00,606.10 Q154.20,609.50 158.00,612.90 Q161.80,609.50 158.00,606.10 Z" fill="#fff"/>
<path d="M158.00,614.20 Q154.20,617.60 158.00,621.00 Q161.80,617.60 158.00,614.20 Z" fill="#fff"/>
<path d="M141.80,611.40 Q148.00,608.80 154.20,611.40 Q148.00,614.00 141.80,611.40 Z" fill="#fff"/>
<path d="M142.80,616.10 Q148.00,613.70 153.20,616.10 Q148.00,618.50 142.80,616.10 Z" fill="#fff"/>
<line x1="148" y1="586.2" x2="148" y2="602.2" stroke="#1c1c1c" stroke-width="1.6" />
<line x1="132.9" y1="643.2" x2="163.4" y2="643.2" stroke="#1c1c1c" stroke-width="1.8" />
<rect x="134.9" y="631.2" width="26.5" height="24.0" fill="#1a1a1a" stroke="none" stroke-width="2.6" />
<path d="M139.00,635.10 Q143.20,631.50 147.40,635.10 Q143.20,638.70 139.00,635.10 Z" fill="#fff"/>
<path d="M139.00,651.50 Q143.20,647.70 147.40,651.50 Q143.20,655.30 139.00,651.50 Z" fill="#fff"/>
<path d="M138.00,636.10 Q134.20,639.50 138.00,642.90 Q141.80,639.50 138.00,636.10 Z" fill="#fff"/>
<path d="M138.00,644.20 Q134.20,647.60 138.00,651.00 Q141.80,647.60 138.00,644.20 Z" fill="#fff"/>
<path d="M148.60,635.10 Q152.80,631.50 157.00,635.10 Q152.80,638.70 148.60,635.10 Z" fill="#fff"/>
<path d="M148.60,651.50 Q152.80,647.70 157.00,651.50 Q152.80,655.30 148.60,651.50 Z" fill="#fff"/>
<path d="M158.00,636.10 Q154.20,639.50 158.00,642.90 Q161.80,639.50 158.00,636.10 Z" fill="#fff"/>
<path d="M158.00,644.20 Q154.20,647.60 158.00,651.00 Q161.80,647.60 158.00,644.20 Z" fill="#fff"/>
<line x1="162.9" y1="613.2" x2="193.4" y2="613.2" stroke="#1c1c1c" stroke-width="1.8" />
<rect x="164.9" y="601.2" width="26.5" height="24.0" fill="#1a1a1a" stroke="none" stroke-width="2.6" />
<path d="M169.00,605.10 Q173.20,601.50 177.40,605.10 Q173.20,608.70 169.00,605.10 Z" fill="#fff"/>
<path d="M169.00,621.50 Q173.20,617.70 177.40,621.50 Q173.20,625.30 169.00,621.50 Z" fill="#fff"/>
<path d="M168.00,606.10 Q164.20,609.50 168.00,612.90 Q171.80,609.50 168.00,606.10 Z" fill="#fff"/>
<path d="M168.00,614.20 Q164.20,617.60 168.00,621.00 Q171.80,617.60 168.00,614.20 Z" fill="#fff"/>
<path d="M178.60,605.10 Q182.80,601.50 187.00,605.10 Q182.80,608.70 178.60,605.10 Z" fill="#fff"/>
<path d="M178.60,621.50 Q182.80,617.70 187.00,621.50 Q182.80,625.30 178.60,621.50 Z" fill="#fff"/>
<path d="M188.00,606.10 Q184.20,609.50 188.00,612.90 Q191.80,609.50 188.00,606.10 Z" fill="#fff"/>
<path d="M188.00,614.20 Q184.20,617.60 188.00,621.00 Q191.80,617.60 188.00,614.20 Z" fill="#fff"/>
<path d="M171.80,611.40 Q178.00,608.80 184.20,611.40 Q178.00,614.00 171.80,611.40 Z" fill="#fff"/>
<path d="M172.80,616.10 Q178.00,613.70 183.20,616.10 Q178.00,618.50 172.80,616.10 Z" fill="#fff"/>
<line x1="178" y1="586.2" x2="178" y2="602.2" stroke="#1c1c1c" stroke-width="1.6" />
<line x1="162.9" y1="643.2" x2="193.4" y2="643.2" stroke="#1c1c1c" stroke-width="1.8" />
<rect x="164.9" y="631.2" width="26.5" height="24.0" fill="#1a1a1a" stroke="none" stroke-width="2.6" />
<path d="M169.00,635.10 Q173.20,631.50 177.40,635.10 Q173.20,638.70 169.00,635.10 Z" fill="#fff"/>
<path d="M169.00,651.50 Q173.20,647.70 177.40,651.50 Q173.20,655.30 169.00,651.50 Z" fill="#fff"/>
<path d="M168.00,636.10 Q164.20,639.50 168.00,642.90 Q171.80,639.50 168.00,636.10 Z" fill="#fff"/>
<path d="M168.00,644.20 Q164.20,647.60 168.00,651.00 Q171.80,647.60 168.00,644.20 Z" fill="#fff"/>
<path d="M178.60,635.10 Q182.80,631.50 187.00,635.10 Q182.80,638.70 178.60,635.10 Z" fill="#fff"/>
<path d="M178.60,651.50 Q182.80,647.70 187.00,651.50 Q182.80,655.30 178.60,651.50 Z" fill="#fff"/>
<path d="M188.00,636.10 Q184.20,639.50 188.00,642.90 Q191.80,639.50 188.00,636.10 Z" fill="#fff"/>
<path d="M188.00,644.20 Q184.20,647.60 188.00,651.00 Q191.80,647.60 188.00,644.20 Z" fill="#fff"/>
<line x1="192.9" y1="613.2" x2="223.4" y2="613.2" stroke="#1c1c1c" stroke-width="1.8" />
<rect x="194.9" y="601.2" width="26.5" height="24.0" fill="#1a1a1a" stroke="none" stroke-width="2.6" />
<path d="M199.00,605.10 Q203.20,601.50 207.40,605.10 Q203.20,608.70 199.00,605.10 Z" fill="#fff"/>
<path d="M199.00,621.50 Q203.20,617.70 207.40,621.50 Q203.20,625.30 199.00,621.50 Z" fill="#fff"/>
<path d="M198.00,606.10 Q194.20,609.50 198.00,612.90 Q201.80,609.50 198.00,606.10 Z" fill="#fff"/>
<path d="M198.00,614.20 Q194.20,617.60 198.00,621.00 Q201.80,617.60 198.00,614.20 Z" fill="#fff"/>
<path d="M208.60,605.10 Q212.80,601.50 217.00,605.10 Q212.80,608.70 208.60,605.10 Z" fill="#fff"/>
<path d="M208.60,621.50 Q212.80,617.70 217.00,621.50 Q212.80,625.30 208.60,621.50 Z" fill="#fff"/>
<path d="M218.00,606.10 Q214.20,609.50 218.00,612.90 Q221.80,609.50 218.00,606.10 Z" fill="#fff"/>
<path d="M218.00,614.20 Q214.20,617.60 218.00,621.00 Q221.80,617.60 218.00,614.20 Z" fill="#fff"/>
<path d="M201.80,611.40 Q208.00,608.80 214.20,611.40 Q208.00,614.00 201.80,611.40 Z" fill="#fff"/>
<path d="M202.80,616.10 Q208.00,613.70 213.20,616.10 Q208.00,618.50 202.80,616.10 Z" fill="#fff"/>
<line x1="208" y1="586.2" x2="208" y2="602.2" stroke="#1c1c1c" stroke-width="1.6" />
<line x1="192.9" y1="643.2" x2="223.4" y2="643.2" stroke="#1c1c1c" stroke-width="1.8" />
<rect x="194.9" y="631.2" width="26.5" height="24.0" fill="#1a1a1a" stroke="none" stroke-width="2.6" />
<path d="M199.00,635.10 Q203.20,631.50 207.40,635.10 Q203.20,638.70 199.00,635.10 Z" fill="#fff"/>
<path d="M199.00,651.50 Q203.20,647.70 207.40,651.50 Q203.20,655.30 199.00,651.50 Z" fill="#fff"/>
<path d="M198.00,636.10 Q194.20,639.50 198.00,642.90 Q201.80,639.50 198.00,636.10 Z" fill="#fff"/>
<path d="M198.00,644.20 Q194.20,647.60 198.00,651.00 Q201.80,647.60 198.00,644.20 Z" fill="#fff"/>
<path d="M208.60,635.10 Q212.80,631.50 217.00,635.10 Q212.80,638.70 208.60,635.10 Z" fill="#fff"/>
<path d="M208.60,651.50 Q212.80,647.70 217.00,651.50 Q212.80,655.30 208.60,651.50 Z" fill="#fff"/>
<path d="M218.00,636.10 Q214.20,639.50 218.00,642.90 Q221.80,639.50 218.00,636.10 Z" fill="#fff"/>
<path d="M218.00,644.20 Q214.20,647.60 218.00,651.00 Q221.80,647.60 218.00,644.20 Z" fill="#fff"/>
<line x1="222.9" y1="613.2" x2="253.4" y2="613.2" stroke="#1c1c1c" stroke-width="1.8" />
<rect x="224.9" y="601.2" width="26.5" height="24.0" fill="#1a1a1a" stroke="none" stroke-width="2.6" />
<path d="M229.00,605.10 Q233.20,601.50 237.40,605.10 Q233.20,608.70 229.00,605.10 Z" fill="#fff"/>
<path d="M229.00,621.50 Q233.20,617.70 237.40,621.50 Q233.20,625.30 229.00,621.50 Z" fill="#fff"/>
<path d="M228.00,606.10 Q224.20,609.50 228.00,612.90 Q231.80,609.50 228.00,606.10 Z" fill="#fff"/>
<path d="M228.00,614.20 Q224.20,617.60 228.00,621.00 Q231.80,617.60 228.00,614.20 Z" fill="#fff"/>
<path d="M238.60,605.10 Q242.80,601.50 247.00,605.10 Q242.80,608.70 238.60,605.10 Z" fill="#fff"/>
<path d="M238.60,621.50 Q242.80,617.70 247.00,621.50 Q242.80,625.30 238.60,621.50 Z" fill="#fff"/>
<path d="M248.00,606.10 Q244.20,609.50 248.00,612.90 Q251.80,609.50 248.00,606.10 Z" fill="#fff"/>
<path d="M248.00,614.20 Q244.20,617.60 248.00,621.00 Q251.80,617.60 248.00,614.20 Z" fill="#fff"/>
<path d="M231.80,611.40 Q238.00,608.80 244.20,611.40 Q238.00,614.00 231.80,611.40 Z" fill="#fff"/>
<path d="M232.80,616.10 Q238.00,613.70 243.20,616.10 Q238.00,618.50 232.80,616.10 Z" fill="#fff"/>
<line x1="238" y1="586.2" x2="238" y2="602.2" stroke="#1c1c1c" stroke-width="1.6" />
<line x1="222.9" y1="643.2" x2="253.4" y2="643.2" stroke="#1c1c1c" stroke-width="1.8" />
<rect x="224.9" y="631.2" width="26.5" height="24.0" fill="#1a1a1a" stroke="none" stroke-width="2.6" />
<path d="M229.00,635.10 Q233.20,631.50 237.40,635.10 Q233.20,638.70 229.00,635.10 Z" fill="#fff"/>
<path d="M229.00,651.50 Q233.20,647.70 237.40,651.50 Q233.20,655.30 229.00,651.50 Z" fill="#fff"/>
<path d="M228.00,636.10 Q224.20,639.50 228.00,642.90 Q231.80,639.50 228.00,636.10 Z" fill="#fff"/>
<path d="M228.00,644.20 Q224.20,647.60 228.00,651.00 Q231.80,647.60 228.00,644.20 Z" fill="#fff"/>
<path d="M238.60,635.10 Q242.80,631.50 247.00,635.10 Q242.80,638.70 238.60,635.10 Z" fill="#fff"/>
<path d="M238.60,651.50 Q242.80,647.70 247.00,651.50 Q242.80,655.30 238.60,651.50 Z" fill="#fff"/>
<path d="M248.00,636.10 Q244.20,639.50 248.00,642.90 Q251.80,639.50 248.00,636.10 Z" fill="#fff"/>
<path d="M248.00,644.20 Q244.20,647.60 248.00,651.00 Q251.80,647.60 248.00,644.20 Z" fill="#fff"/>
<line x1="596.4" y1="613.2" x2="635.9" y2="613.2" stroke="#1c1c1c" stroke-width="1.8" />
<rect x="607.4" y="601.2" width="26.5" height="24.0" fill="#1a1a1a" stroke="none" stroke-width="2.6" />
<path d="M611.50,605.10 Q615.70,601.50 619.90,605.10 Q615.70,608.70 611.50,605.10 Z" fill="#fff"/>
<path d="M611.50,621.50 Q615.70,617.70 619.90,621.50 Q615.70,625.30 611.50,621.50 Z" fill="#fff"/>
<path d="M610.50,606.10 Q606.70,609.50 610.50,612.90 Q614.30,609.50 610.50,606.10 Z" fill="#fff"/>
<path d="M610.50,614.20 Q606.70,617.60 610.50,621.00 Q614.30,617.60 610.50,614.20 Z" fill="#fff"/>
<path d="M621.10,605.10 Q625.30,601.50 629.50,605.10 Q625.30,608.70 621.10,605.10 Z" fill="#fff"/>
<path d="M621.10,621.50 Q625.30,617.70 629.50,621.50 Q625.30,625.30 621.10,621.50 Z" fill="#fff"/>
<path d="M630.50,606.10 Q626.70,609.50 630.50,612.90 Q634.30,609.50 630.50,606.10 Z" fill="#fff"/>
<path d="M630.50,614.20 Q626.70,617.60 630.50,621.00 Q634.30,617.60 630.50,614.20 Z" fill="#fff"/>
<path d="M614.30,611.40 Q620.50,608.80 626.70,611.40 Q620.50,614.00 614.30,611.40 Z" fill="#fff"/>
<path d="M615.30,616.10 Q620.50,613.70 625.70,616.10 Q620.50,618.50 615.30,616.10 Z" fill="#fff"/>
<line x1="620.5" y1="586.2" x2="620.5" y2="602.2" stroke="#1c1c1c" stroke-width="1.6" />
<line x1="596.4" y1="643.2" x2="635.9" y2="643.2" stroke="#1c1c1c" stroke-width="1.8" />
<rect x="607.4" y="631.2" width="26.5" height="24.0" fill="#1a1a1a" stroke="none" stroke-width="2.6" />
<path d="M611.50,635.10 Q615.70,631.50 619.90,635.10 Q615.70,638.70 611.50,635.10 Z" fill="#fff"/>
<path d="M611.50,651.50 Q615.70,647.70 619.90,651.50 Q615.70,655.30 611.50,651.50 Z" fill="#fff"/>
<path d="M610.50,636.10 Q606.70,639.50 610.50,642.90 Q614.30,639.50 610.50,636.10 Z" fill="#fff"/>
<path d="M610.50,644.20 Q606.70,647.60 610.50,651.00 Q614.30,647.60 610.50,644.20 Z" fill="#fff"/>
<path d="M621.10,635.10 Q625.30,631.50 629.50,635.10 Q625.30,638.70 621.10,635.10 Z" fill="#fff"/>
<path d="M621.10,651.50 Q625.30,647.70 629.50,651.50 Q625.30,655.30 621.10,651.50 Z" fill="#fff"/>
<path d="M630.50,636.10 Q626.70,639.50 630.50,642.90 Q634.30,639.50 630.50,636.10 Z" fill="#fff"/>
<path d="M630.50,644.20 Q626.70,647.60 630.50,651.00 Q634.30,647.60 630.50,644.20 Z" fill="#fff"/>
<line x1="635.4" y1="613.2" x2="665.9" y2="613.2" stroke="#1c1c1c" stroke-width="1.8" />
<rect x="637.4" y="601.2" width="26.5" height="24.0" fill="#1a1a1a" stroke="none" stroke-width="2.6" />
<path d="M641.50,605.10 Q645.70,601.50 649.90,605.10 Q645.70,608.70 641.50,605.10 Z" fill="#fff"/>
<path d="M641.50,621.50 Q645.70,617.70 649.90,621.50 Q645.70,625.30 641.50,621.50 Z" fill="#fff"/>
<path d="M640.50,606.10 Q636.70,609.50 640.50,612.90 Q644.30,609.50 640.50,606.10 Z" fill="#fff"/>
<path d="M640.50,614.20 Q636.70,617.60 640.50,621.00 Q644.30,617.60 640.50,614.20 Z" fill="#fff"/>
<path d="M651.10,605.10 Q655.30,601.50 659.50,605.10 Q655.30,608.70 651.10,605.10 Z" fill="#fff"/>
<path d="M651.10,621.50 Q655.30,617.70 659.50,621.50 Q655.30,625.30 651.10,621.50 Z" fill="#fff"/>
<path d="M660.50,606.10 Q656.70,609.50 660.50,612.90 Q664.30,609.50 660.50,606.10 Z" fill="#fff"/>
<path d="M660.50,614.20 Q656.70,617.60 660.50,621.00 Q664.30,617.60 660.50,614.20 Z" fill="#fff"/>
<path d="M644.30,611.40 Q650.50,608.80 656.70,611.40 Q650.50,614.00 644.30,611.40 Z" fill="#fff"/>
<path d="M645.30,616.10 Q650.50,613.70 655.70,616.10 Q650.50,618.50 645.30,616.10 Z" fill="#fff"/>
<line x1="650.5" y1="586.2" x2="650.5" y2="602.2" stroke="#1c1c1c" stroke-width="1.6" />
<line x1="635.4" y1="643.2" x2="665.9" y2="643.2" stroke="#1c1c1c" stroke-width="1.8" />
<rect x="637.4" y="631.2" width="26.5" height="24.0" fill="#1a1a1a" stroke="none" stroke-width="2.6" />
<path d="M641.50,635.10 Q645.70,631.50 649.90,635.10 Q645.70,638.70 641.50,635.10 Z" fill="#fff"/>
<path d="M641.50,651.50 Q645.70,647.70 649.90,651.50 Q645.70,655.30 641.50,651.50 Z" fill="#fff"/>
<path d="M640.50,636.10 Q636.70,639.50 640.50,642.90 Q644.30,639.50 640.50,636.10 Z" fill="#fff"/>
<path d="M640.50,644.20 Q636.70,647.60 640.50,651.00 Q644.30,647.60 640.50,644.20 Z" fill="#fff"/>
<path d="M651.10,635.10 Q655.30,631.50 659.50,635.10 Q655.30,638.70 651.10,635.10 Z" fill="#fff"/>
<path d="M651.10,651.50 Q655.30,647.70 659.50,651.50 Q655.30,655.30 651.10,651.50 Z" fill="#fff"/>
<path d="M660.50,636.10 Q656.70,639.50 660.50,642.90 Q664.30,639.50 660.50,636.10 Z" fill="#fff"/>
<path d="M660.50,644.20 Q656.70,647.60 660.50,651.00 Q664.30,647.60 660.50,644.20 Z" fill="#fff"/>
<line x1="665.4" y1="613.2" x2="695.9" y2="613.2" stroke="#1c1c1c" stroke-width="1.8" />
<rect x="667.4" y="601.2" width="26.5" height="24.0" fill="#1a1a1a" stroke="none" stroke-width="2.6" />
<path d="M671.50,605.10 Q675.70,601.50 679.90,605.10 Q675.70,608.70 671.50,605.10 Z" fill="#fff"/>
<path d="M671.50,621.50 Q675.70,617.70 679.90,621.50 Q675.70,625.30 671.50,621.50 Z" fill="#fff"/>
<path d="M670.50,606.10 Q666.70,609.50 670.50,612.90 Q674.30,609.50 670.50,606.10 Z" fill="#fff"/>
<path d="M670.50,614.20 Q666.70,617.60 670.50,621.00 Q674.30,617.60 670.50,614.20 Z" fill="#fff"/>
<path d="M681.10,605.10 Q685.30,601.50 689.50,605.10 Q685.30,608.70 681.10,605.10 Z" fill="#fff"/>
<path d="M681.10,621.50 Q685.30,617.70 689.50,621.50 Q685.30,625.30 681.10,621.50 Z" fill="#fff"/>
<path d="M690.50,606.10 Q686.70,609.50 690.50,612.90 Q694.30,609.50 690.50,606.10 Z" fill="#fff"/>
<path d="M690.50,614.20 Q686.70,617.60 690.50,621.00 Q694.30,617.60 690.50,614.20 Z" fill="#fff"/>
<path d="M674.30,611.40 Q680.50,608.80 686.70,611.40 Q680.50,614.00 674.30,611.40 Z" fill="#fff"/>
<path d="M675.30,616.10 Q680.50,613.70 685.70,616.10 Q680.50,618.50 675.30,616.10 Z" fill="#fff"/>
<line x1="680.5" y1="586.2" x2="680.5" y2="602.2" stroke="#1c1c1c" stroke-width="1.6" />
<line x1="665.4" y1="643.2" x2="695.9" y2="643.2" stroke="#1c1c1c" stroke-width="1.8" />
<rect x="667.4" y="631.2" width="26.5" height="24.0" fill="#1a1a1a" stroke="none" stroke-width="2.6" />
<path d="M671.50,635.10 Q675.70,631.50 679.90,635.10 Q675.70,638.70 671.50,635.10 Z" fill="#fff"/>
<path d="M671.50,651.50 Q675.70,647.70 679.90,651.50 Q675.70,655.30 671.50,651.50 Z" fill="#fff"/>
<path d="M670.50,636.10 Q666.70,639.50 670.50,642.90 Q674.30,639.50 670.50,636.10 Z" fill="#fff"/>
<path d="M670.50,644.20 Q666.70,647.60 670.50,651.00 Q674.30,647.60 670.50,644.20 Z" fill="#fff"/>
<path d="M681.10,635.10 Q685.30,631.50 689.50,635.10 Q685.30,638.70 681.10,635.10 Z" fill="#fff"/>
<path d="M681.10,651.50 Q685.30,647.70 689.50,651.50 Q685.30,655.30 681.10,651.50 Z" fill="#fff"/>
<path d="M690.50,636.10 Q686.70,639.50 690.50,642.90 Q694.30,639.50 690.50,636.10 Z" fill="#fff"/>
<path d="M690.50,644.20 Q686.70,647.60 690.50,651.00 Q694.30,647.60 690.50,644.20 Z" fill="#fff"/>
<path d="M113.2,660 L113.2,699 L122.8,699 L122.8,660" stroke="#1c1c1c" stroke-width="2.1" fill="#e8e8e8" />
<rect x="113.2" y="696" width="9.599999999999994" height="4" fill="#1a1a1a" stroke="none" stroke-width="2.6" />
<rect x="111" y="637" width="14" height="26" fill="#1a1a1a" stroke="none" stroke-width="2.6" />
<rect x="114.7" y="649" width="6.6" height="14" fill="#e8e8e8" stroke="none" stroke-width="2.6" />
<circle cx="115.4" cy="641" r="1.4" fill="#fff"/><circle cx="120.6" cy="641" r="1.4" fill="#fff"/>
<rect x="114.5" y="644.5" width="7" height="1.5" fill="#fff" stroke="none" stroke-width="2.6" />
<line x1="118" y1="669" x2="118" y2="675" stroke="#777" stroke-width="1.8" />
<line x1="118" y1="680" x2="118" y2="686" stroke="#777" stroke-width="1.8" />
<line x1="118" y1="691" x2="118" y2="697" stroke="#777" stroke-width="1.8" />
<path d="M143.2,660 L143.2,695 Q143.2,701 148,704.5 Q152.8,701 152.8,695 L152.8,660" stroke="#1c1c1c" stroke-width="2.1" fill="#e4e4e4" />
<polygon points="144.00,697.50 152.00,697.50 150.50,702.00 148.00,704.50 145.50,702.00" fill="#1a1a1a" stroke="none" stroke-width="0"/>
<rect x="141" y="637" width="14" height="26" fill="#1a1a1a" stroke="none" stroke-width="2.6" />
<rect x="144.7" y="649" width="6.6" height="14" fill="#e4e4e4" stroke="none" stroke-width="2.6" />
<circle cx="145.4" cy="641" r="1.4" fill="#fff"/><circle cx="150.6" cy="641" r="1.4" fill="#fff"/>
<rect x="144.5" y="644.5" width="7" height="1.5" fill="#fff" stroke="none" stroke-width="2.6" />
<line x1="148" y1="669" x2="148" y2="675" stroke="#777" stroke-width="1.8" />
<line x1="148" y1="680" x2="148" y2="686" stroke="#777" stroke-width="1.8" />
<line x1="148" y1="691" x2="148" y2="697" stroke="#777" stroke-width="1.8" />
<path d="M173.2,660 L173.2,695 Q173.2,701 178,704.5 Q182.8,701 182.8,695 L182.8,660" stroke="#1c1c1c" stroke-width="2.1" fill="#d8d8d8" />
<polygon points="174.00,697.50 182.00,697.50 180.50,702.00 178.00,704.50 175.50,702.00" fill="#1a1a1a" stroke="none" stroke-width="0"/>
<rect x="171" y="637" width="14" height="26" fill="#1a1a1a" stroke="none" stroke-width="2.6" />
<rect x="174.7" y="649" width="6.6" height="14" fill="#d8d8d8" stroke="none" stroke-width="2.6" />
<circle cx="175.4" cy="641" r="1.4" fill="#fff"/><circle cx="180.6" cy="641" r="1.4" fill="#fff"/>
<rect x="174.5" y="644.5" width="7" height="1.5" fill="#fff" stroke="none" stroke-width="2.6" />
<line x1="178" y1="669" x2="178" y2="675" stroke="#777" stroke-width="1.8" />
<line x1="178" y1="680" x2="178" y2="686" stroke="#777" stroke-width="1.8" />
<line x1="178" y1="691" x2="178" y2="697" stroke="#777" stroke-width="1.8" />
<path d="M203.2,660 L203.2,695 Q203.2,701 208,704.5 Q212.8,701 212.8,695 L212.8,660" stroke="#1c1c1c" stroke-width="2.1" fill="#c4c4c4" />
<polygon points="204.00,697.50 212.00,697.50 210.50,702.00 208.00,704.50 205.50,702.00" fill="#1a1a1a" stroke="none" stroke-width="0"/>
<rect x="201" y="637" width="14" height="26" fill="#1a1a1a" stroke="none" stroke-width="2.6" />
<rect x="204.7" y="649" width="6.6" height="14" fill="#c4c4c4" stroke="none" stroke-width="2.6" />
<circle cx="205.4" cy="641" r="1.4" fill="#fff"/><circle cx="210.6" cy="641" r="1.4" fill="#fff"/>
<rect x="204.5" y="644.5" width="7" height="1.5" fill="#fff" stroke="none" stroke-width="2.6" />
<line x1="208" y1="669" x2="208" y2="675" stroke="#777" stroke-width="1.8" />
<line x1="208" y1="680" x2="208" y2="686" stroke="#777" stroke-width="1.8" />
<line x1="208" y1="691" x2="208" y2="697" stroke="#777" stroke-width="1.8" />
<path d="M233.2,660 L233.2,695 Q233.2,701 238,704.5 Q242.8,701 242.8,695 L242.8,660" stroke="#1c1c1c" stroke-width="2.1" fill="#c0c0c0" />
<polygon points="234.00,697.50 242.00,697.50 240.50,702.00 238.00,704.50 235.50,702.00" fill="#1a1a1a" stroke="none" stroke-width="0"/>
<rect x="231" y="637" width="14" height="26" fill="#1a1a1a" stroke="none" stroke-width="2.6" />
<rect x="234.7" y="649" width="6.6" height="14" fill="#c0c0c0" stroke="none" stroke-width="2.6" />
<circle cx="235.4" cy="641" r="1.4" fill="#fff"/><circle cx="240.6" cy="641" r="1.4" fill="#fff"/>
<rect x="234.5" y="644.5" width="7" height="1.5" fill="#fff" stroke="none" stroke-width="2.6" />
<line x1="238" y1="669" x2="238" y2="675" stroke="#777" stroke-width="1.8" />
<line x1="238" y1="680" x2="238" y2="686" stroke="#777" stroke-width="1.8" />
<line x1="238" y1="691" x2="238" y2="697" stroke="#777" stroke-width="1.8" />
<path d="M615.7,660 L615.7,695 Q615.7,701 620.5,704.5 Q625.3,701 625.3,695 L625.3,660" stroke="#1c1c1c" stroke-width="2.1" fill="#d4d4d4" />
<polygon points="616.50,697.50 624.50,697.50 623.00,702.00 620.50,704.50 618.00,702.00" fill="#1a1a1a" stroke="none" stroke-width="0"/>
<rect x="613.5" y="637" width="14" height="26" fill="#1a1a1a" stroke="none" stroke-width="2.6" />
<rect x="617.2" y="649" width="6.6" height="14" fill="#d4d4d4" stroke="none" stroke-width="2.6" />
<circle cx="617.9" cy="641" r="1.4" fill="#fff"/><circle cx="623.1" cy="641" r="1.4" fill="#fff"/>
<rect x="617.0" y="644.5" width="7" height="1.5" fill="#fff" stroke="none" stroke-width="2.6" />
<line x1="620.5" y1="669" x2="620.5" y2="675" stroke="#777" stroke-width="1.8" />
<line x1="620.5" y1="680" x2="620.5" y2="686" stroke="#777" stroke-width="1.8" />
<line x1="620.5" y1="691" x2="620.5" y2="697" stroke="#777" stroke-width="1.8" />
<path d="M645.7,660 L645.7,695 Q645.7,701 650.5,704.5 Q655.3,701 655.3,695 L655.3,660" stroke="#1c1c1c" stroke-width="2.1" fill="#d0d0d0" />
<polygon points="646.50,697.50 654.50,697.50 653.00,702.00 650.50,704.50 648.00,702.00" fill="#1a1a1a" stroke="none" stroke-width="0"/>
<rect x="643.5" y="637" width="14" height="26" fill="#1a1a1a" stroke="none" stroke-width="2.6" />
<rect x="647.2" y="649" width="6.6" height="14" fill="#d0d0d0" stroke="none" stroke-width="2.6" />
<circle cx="647.9" cy="641" r="1.4" fill="#fff"/><circle cx="653.1" cy="641" r="1.4" fill="#fff"/>
<rect x="647.0" y="644.5" width="7" height="1.5" fill="#fff" stroke="none" stroke-width="2.6" />
<line x1="650.5" y1="669" x2="650.5" y2="675" stroke="#777" stroke-width="1.8" />
<line x1="650.5" y1="680" x2="650.5" y2="686" stroke="#777" stroke-width="1.8" />
<line x1="650.5" y1="691" x2="650.5" y2="697" stroke="#777" stroke-width="1.8" />
<path d="M675.7,660 L675.7,695 Q675.7,701 680.5,704.5 Q685.3,701 685.3,695 L685.3,660" stroke="#1c1c1c" stroke-width="2.1" fill="#cccccc" />
<polygon points="676.50,697.50 684.50,697.50 683.00,702.00 680.50,704.50 678.00,702.00" fill="#1a1a1a" stroke="none" stroke-width="0"/>
<rect x="673.5" y="637" width="14" height="26" fill="#1a1a1a" stroke="none" stroke-width="2.6" />
<rect x="677.2" y="649" width="6.6" height="14" fill="#cccccc" stroke="none" stroke-width="2.6" />
<circle cx="677.9" cy="641" r="1.4" fill="#fff"/><circle cx="683.1" cy="641" r="1.4" fill="#fff"/>
<rect x="677.0" y="644.5" width="7" height="1.5" fill="#fff" stroke="none" stroke-width="2.6" />
<line x1="680.5" y1="669" x2="680.5" y2="675" stroke="#777" stroke-width="1.8" />
<line x1="680.5" y1="680" x2="680.5" y2="686" stroke="#777" stroke-width="1.8" />
<line x1="680.5" y1="691" x2="680.5" y2="697" stroke="#777" stroke-width="1.8" />
<line x1="113.6" y1="699" x2="113.6" y2="760" stroke="#1c1c1c" stroke-width="1.8" />
<line x1="122.4" y1="699" x2="122.4" y2="760" stroke="#1c1c1c" stroke-width="1.8" />
<line x1="89" y1="754" x2="227" y2="754" stroke="#1c1c1c" stroke-width="2.6" />
<polygon points="113.60,754.00 101.60,757.20 101.60,750.80" fill="#1a1a1a" stroke="none" stroke-width="0"/>
<polygon points="122.40,754.00 134.40,750.80 134.40,757.20" fill="#1a1a1a" stroke="none" stroke-width="0"/>
<line x1="675" y1="560" x2="675" y2="600" stroke="#1c1c1c" stroke-width="1.8" />
<line x1="687" y1="560" x2="687" y2="600" stroke="#1c1c1c" stroke-width="1.8" />
<line x1="650" y1="565" x2="741" y2="565" stroke="#1c1c1c" stroke-width="2.6" />
<polygon points="675.00,565.00 663.00,568.20 663.00,561.80" fill="#1a1a1a" stroke="none" stroke-width="0"/>
<polygon points="687.00,565.00 699.00,561.80 699.00,568.20" fill="#1a1a1a" stroke="none" stroke-width="0"/>
<line x1="762.5" y1="585" x2="762.5" y2="662.5" stroke="#1c1c1c" stroke-width="2.6" />
<polygon points="762.50,607.50 759.30,595.50 765.70,595.50" fill="#1a1a1a" stroke="none" stroke-width="0"/>
<polygon points="762.50,617.80 765.70,629.80 759.30,629.80" fill="#1a1a1a" stroke="none" stroke-width="0"/>
<line x1="697.5" y1="607.5" x2="769" y2="607.5" stroke="#1c1c1c" stroke-width="1.6" />
<line x1="697.5" y1="617.8" x2="769" y2="617.8" stroke="#1c1c1c" stroke-width="1.6" />
<path d="M394.5,561.6 Q368,559 341.6,548.8" stroke="#1c1c1c" stroke-width="2.6" fill="none" />
<polygon points="341.60,548.80 355.10,549.94 352.36,557.03" fill="#1a1a1a" stroke="none" stroke-width="0"/>
<path d="M405.75,561.6 Q433,559 466.5,548.8" stroke="#1c1c1c" stroke-width="2.6" fill="none" />
<polygon points="466.50,548.80 455.17,556.22 452.96,548.95" fill="#1a1a1a" stroke="none" stroke-width="0"/>
<path d="M395,723 Q366,726 338,736" stroke="#1c1c1c" stroke-width="2.6" fill="none" />
<polygon points="338.00,736.00 348.96,728.05 351.52,735.21" fill="#1a1a1a" stroke="none" stroke-width="0"/>
<path d="M406,723 Q435,726 463,736" stroke="#1c1c1c" stroke-width="2.6" fill="none" />
<polygon points="463.00,736.00 449.48,735.21 452.04,728.05" fill="#1a1a1a" stroke="none" stroke-width="0"/>
<text transform="translate(53.31,75.24) scale(0.764,1)" font-family="Liberation Sans" font-weight="bold" font-size="12.01" fill="#141414" stroke="#141414" stroke-width="0.8">+</text>
<text transform="translate(60.98,76.63) scale(1.037,1)" font-family="Liberation Sans" font-weight="bold" font-size="17.44" fill="#141414" stroke="#141414" stroke-width="0.8">0</text>
<rect x="71.20" y="74.90" width="2.6" height="2.6" fill="#555"/>
<text transform="translate(80.40,76.60) scale(0.763,1)" font-family="Liberation Sans" font-weight="bold" font-size="17.41" fill="#141414" stroke="#141414" stroke-width="0.8">3</text>
<path d="M5.00,96.25 L5.00,84.00 L2.50,85.50 L2.50,82.80 L5.60,80.00 L7.80,80.00 L7.80,96.25 Z" fill="#141414"/>
<rect x="11.20" y="93.65" width="2.6" height="2.6" fill="#555"/>
<text transform="translate(22.22,95.55) scale(0.645,1)" font-family="Liberation Sans" font-weight="bold" font-size="21.27" fill="#141414" stroke="#141414" stroke-width="0.8">2</text>
<text transform="translate(31.00,95.55) scale(0.750,1)" font-family="Liberation Sans" font-weight="bold" font-size="21.58" fill="#141414" stroke="#141414" stroke-width="0.8">7</text>
<text transform="translate(52.42,91.98) scale(1.496,1)" font-family="Liberation Sans" font-weight="bold" font-size="13.43" fill="#141414" stroke="#141414" stroke-width="0.8">-</text>
<text transform="translate(60.98,95.35) scale(0.862,1)" font-family="Liberation Sans" font-weight="bold" font-size="20.97" fill="#141414" stroke="#141414" stroke-width="0.8">0</text>
<rect x="71.20" y="93.65" width="2.6" height="2.6" fill="#555"/>
<text transform="translate(80.15,95.55) scale(0.742,1)" font-family="Liberation Sans" font-weight="bold" font-size="21.27" fill="#141414" stroke="#141414" stroke-width="0.8">2</text>
<text transform="translate(761.81,75.24) scale(0.764,1)" font-family="Liberation Sans" font-weight="bold" font-size="12.01" fill="#141414" stroke="#141414" stroke-width="0.8">+</text>
<text transform="translate(769.48,76.63) scale(1.037,1)" font-family="Liberation Sans" font-weight="bold" font-size="17.44" fill="#141414" stroke="#141414" stroke-width="0.8">0</text>
<rect x="779.70" y="74.90" width="2.6" height="2.6" fill="#555"/>
<text transform="translate(788.90,76.60) scale(0.763,1)" font-family="Liberation Sans" font-weight="bold" font-size="17.41" fill="#141414" stroke="#141414" stroke-width="0.8">3</text>
<path d="M713.50,96.25 L713.50,84.00 L711.00,85.50 L711.00,82.80 L714.10,80.00 L716.30,80.00 L716.30,96.25 Z" fill="#141414"/>
<rect x="719.70" y="93.65" width="2.6" height="2.6" fill="#555"/>
<text transform="translate(730.72,95.55) scale(0.645,1)" font-family="Liberation Sans" font-weight="bold" font-size="21.27" fill="#141414" stroke="#141414" stroke-width="0.8">2</text>
<text transform="translate(739.50,95.55) scale(0.750,1)" font-family="Liberation Sans" font-weight="bold" font-size="21.58" fill="#141414" stroke="#141414" stroke-width="0.8">7</text>
<text transform="translate(760.92,91.98) scale(1.496,1)" font-family="Liberation Sans" font-weight="bold" font-size="13.43" fill="#141414" stroke="#141414" stroke-width="0.8">-</text>
<text transform="translate(769.48,95.35) scale(0.862,1)" font-family="Liberation Sans" font-weight="bold" font-size="20.97" fill="#141414" stroke="#141414" stroke-width="0.8">0</text>
<rect x="779.70" y="93.65" width="2.6" height="2.6" fill="#555"/>
<text transform="translate(788.65,95.55) scale(0.742,1)" font-family="Liberation Sans" font-weight="bold" font-size="21.27" fill="#141414" stroke="#141414" stroke-width="0.8">2</text>
<text transform="translate(167.65,122.30) scale(0.930,1)" font-family="Liberation Sans" font-weight="bold" font-size="16.97" fill="#141414" stroke="#141414" stroke-width="0.8">2</text>
<rect x="178.20" y="120.40" width="2.6" height="2.6" fill="#555"/>
<text transform="translate(188.73,122.13) scale(0.899,1)" font-family="Liberation Sans" font-weight="bold" font-size="16.98" fill="#141414" stroke="#141414" stroke-width="0.8">5</text>
<text transform="translate(198.46,122.30) scale(0.932,1)" font-family="Liberation Sans" font-weight="bold" font-size="17.22" fill="#141414" stroke="#141414" stroke-width="0.8">4</text>
<text transform="translate(220.77,122.30) scale(1.062,1)" font-family="Liberation Sans" font-weight="bold" font-size="17.09" fill="#141414" stroke="#141414" stroke-width="0.8">±</text>
<text transform="translate(238.07,122.14) scale(0.955,1)" font-family="Liberation Sans" font-weight="bold" font-size="16.74" fill="#141414" stroke="#141414" stroke-width="0.8">0</text>
<rect x="248.70" y="120.40" width="2.6" height="2.6" fill="#555"/>
<text transform="translate(256.11,122.14) scale(0.892,1)" font-family="Liberation Sans" font-weight="bold" font-size="16.74" fill="#141414" stroke="#141414" stroke-width="0.8">0</text>
<text transform="translate(265.21,122.14) scale(0.920,1)" font-family="Liberation Sans" font-weight="bold" font-size="16.74" fill="#141414" stroke="#141414" stroke-width="0.8">8</text>
<text transform="translate(182.01,142.94) scale(0.914,1)" font-family="Liberation Sans" font-weight="normal" font-size="21.04" fill="#141414" stroke="#141414" stroke-width="0.7">(</text>
<text transform="translate(191.30,144.30) scale(0.679,1)" font-family="Liberation Sans" font-weight="bold" font-size="19.77" fill="#141414" stroke="#141414" stroke-width="0.8">P</text>
<text transform="translate(204.91,144.30) scale(0.498,1)" font-family="Liberation Mono" font-weight="bold" font-size="20.65" fill="#141414" stroke="#141414" stroke-width="0.8">I</text>
<text transform="translate(213.52,144.30) scale(0.803,1)" font-family="Liberation Sans" font-weight="bold" font-size="19.77" fill="#141414" stroke="#141414" stroke-width="0.8">T</text>
<text transform="translate(226.22,144.11) scale(0.605,1)" font-family="Liberation Sans" font-weight="bold" font-size="19.21" fill="#141414" stroke="#141414" stroke-width="0.8">C</text>
<text transform="translate(237.75,144.30) scale(0.719,1)" font-family="Liberation Sans" font-weight="bold" font-size="19.77" fill="#141414" stroke="#141414" stroke-width="0.8">H</text>
<text transform="translate(249.83,142.94) scale(0.959,1)" font-family="Liberation Sans" font-weight="normal" font-size="21.04" fill="#141414" stroke="#141414" stroke-width="0.7">)</text>
<text transform="translate(391.71,55.94) scale(0.376,1)" font-family="Liberation Sans" font-weight="normal" font-size="21.04" fill="#141414" stroke="#141414" stroke-width="0.7">(</text>
<text transform="translate(396.03,58.30) scale(0.471,1)" font-family="Liberation Sans" font-weight="bold" font-size="21.22" fill="#141414" stroke="#141414" stroke-width="0.8">B</text>
<text transform="translate(404.64,55.94) scale(0.466,1)" font-family="Liberation Sans" font-weight="normal" font-size="21.04" fill="#141414" stroke="#141414" stroke-width="0.7">)</text>
<text transform="translate(394.34,95.80) scale(0.652,1)" font-family="Liberation Sans" font-weight="bold" font-size="21.95" fill="#141414" stroke="#141414" stroke-width="0.8">A</text>
<text transform="translate(319.13,315.92) scale(0.735,1)" font-family="Liberation Sans" font-weight="bold" font-size="18.93" fill="#141414" stroke="#141414" stroke-width="1.1">C</text>
<text transform="translate(365.24,312.17) scale(0.775,1)" font-family="Liberation Sans" font-weight="normal" font-size="19.96" fill="#141414" stroke="#141414" stroke-width="0.7">(</text>
<text transform="translate(372.19,313.80) scale(0.495,1)" font-family="Liberation Sans" font-weight="bold" font-size="23.40" fill="#141414" stroke="#141414" stroke-width="1.2">W</text>
<text transform="translate(383.83,313.80) scale(0.631,1)" font-family="Liberation Sans" font-weight="bold" font-size="23.40" fill="#141414" stroke="#141414" stroke-width="1.2">A</text>
<text transform="translate(394.21,313.80) scale(0.633,1)" font-family="Liberation Sans" font-weight="bold" font-size="23.40" fill="#141414" stroke="#141414" stroke-width="1.2">R</text>
<text transform="translate(404.51,313.80) scale(0.763,1)" font-family="Liberation Sans" font-weight="bold" font-size="23.40" fill="#141414" stroke="#141414" stroke-width="1.2">P</text>
<text transform="translate(418.60,312.17) scale(0.869,1)" font-family="Liberation Sans" font-weight="normal" font-size="19.96" fill="#141414" stroke="#141414" stroke-width="0.7">)</text>
<text transform="translate(363.24,509.17) scale(0.775,1)" font-family="Liberation Sans" font-weight="normal" font-size="19.96" fill="#141414" stroke="#141414" stroke-width="0.7">(</text>
<text transform="translate(370.69,511.30) scale(0.458,1)" font-family="Liberation Sans" font-weight="bold" font-size="24.13" fill="#141414" stroke="#141414" stroke-width="1.2">W</text>
<text transform="translate(381.80,511.30) scale(0.673,1)" font-family="Liberation Sans" font-weight="bold" font-size="24.13" fill="#141414" stroke="#141414" stroke-width="1.2">A</text>
<text transform="translate(393.31,511.30) scale(0.548,1)" font-family="Liberation Sans" font-weight="bold" font-size="24.13" fill="#141414" stroke="#141414" stroke-width="1.2">R</text>
<text transform="translate(402.45,511.30) scale(0.776,1)" font-family="Liberation Sans" font-weight="bold" font-size="24.13" fill="#141414" stroke="#141414" stroke-width="1.2">P</text>
<text transform="translate(417.12,509.17) scale(0.680,1)" font-family="Liberation Sans" font-weight="normal" font-size="19.96" fill="#141414" stroke="#141414" stroke-width="0.7">)</text>
<text transform="translate(371.22,548.19) scale(0.628,1)" font-family="Liberation Sans" font-weight="normal" font-size="18.62" fill="#141414" stroke="#141414" stroke-width="0.7">(</text>
<text transform="translate(377.94,550.55) scale(0.517,1)" font-family="Liberation Sans" font-weight="bold" font-size="20.86" fill="#141414" stroke="#141414" stroke-width="1.2">W</text>
<text transform="translate(388.88,550.55) scale(0.618,1)" font-family="Liberation Sans" font-weight="bold" font-size="20.86" fill="#141414" stroke="#141414" stroke-width="1.2">A</text>
<text transform="translate(397.96,550.55) scale(0.710,1)" font-family="Liberation Sans" font-weight="bold" font-size="20.86" fill="#141414" stroke="#141414" stroke-width="1.2">R</text>
<text transform="translate(408.29,550.55) scale(0.834,1)" font-family="Liberation Sans" font-weight="bold" font-size="20.86" fill="#141414" stroke="#141414" stroke-width="1.2">P</text>
<text transform="translate(423.57,548.19) scale(1.235,1)" font-family="Liberation Sans" font-weight="normal" font-size="18.62" fill="#141414" stroke="#141414" stroke-width="0.7">)</text>
<text transform="translate(371.86,750.56) scale(0.662,1)" font-family="Liberation Sans" font-weight="normal" font-size="20.50" fill="#141414" stroke="#141414" stroke-width="0.7">(</text>
<text transform="translate(379.69,753.30) scale(0.472,1)" font-family="Liberation Sans" font-weight="bold" font-size="23.40" fill="#141414" stroke="#141414" stroke-width="1.2">W</text>
<text transform="translate(390.85,753.30) scale(0.599,1)" font-family="Liberation Sans" font-weight="bold" font-size="23.40" fill="#141414" stroke="#141414" stroke-width="1.2">A</text>
<text transform="translate(400.76,753.30) scale(0.599,1)" font-family="Liberation Sans" font-weight="bold" font-size="23.40" fill="#141414" stroke="#141414" stroke-width="1.2">R</text>
<text transform="translate(410.57,753.30) scale(0.725,1)" font-family="Liberation Sans" font-weight="bold" font-size="23.40" fill="#141414" stroke="#141414" stroke-width="1.2">P</text>
<text transform="translate(425.59,750.56) scale(0.938,1)" font-family="Liberation Sans" font-weight="normal" font-size="20.50" fill="#141414" stroke="#141414" stroke-width="0.7">)</text>
<text transform="translate(321.54,555.05) scale(0.620,1)" font-family="Liberation Sans" font-weight="bold" font-size="21.95" fill="#141414" stroke="#141414" stroke-width="1.1">D</text>
<text transform="translate(628.83,323.80) scale(0.529,1)" font-family="Liberation Sans" font-weight="bold" font-size="27.76" fill="#141414" stroke="#141414" stroke-width="0.8">A</text>
<text transform="translate(628.32,493.30) scale(0.559,1)" font-family="Liberation Sans" font-weight="bold" font-size="27.62" fill="#141414" stroke="#141414" stroke-width="0.8">A</text>
<text transform="translate(137.92,750.35) scale(0.977,1)" font-family="Liberation Sans" font-weight="bold" font-size="20.13" fill="#141414" stroke="#141414" stroke-width="0.8">0</text>
<rect x="150.20" y="748.65" width="2.6" height="2.6" fill="#555"/>
<text transform="translate(159.44,750.55) scale(0.741,1)" font-family="Liberation Sans" font-weight="bold" font-size="20.71" fill="#141414" stroke="#141414" stroke-width="0.8">7</text>
<text transform="translate(182.29,750.30) scale(1.182,1)" font-family="Liberation Sans" font-weight="bold" font-size="14.51" fill="#141414" stroke="#141414" stroke-width="0.8">±</text>
<text transform="translate(197.59,750.40) scale(0.986,1)" font-family="Liberation Sans" font-weight="bold" font-size="15.68" fill="#141414" stroke="#141414" stroke-width="0.8">0</text>
<rect x="208.95" y="748.65" width="2.6" height="2.6" fill="#555"/>
<path d="M220.75,751.25 L220.75,742.75 L219.40,744.25 L219.40,741.55 L221.35,738.75 L223.55,738.75 L223.55,751.25 Z" fill="#141414"/>
<path d="M716.25,562.75 L716.25,551.00 L712.25,552.50 L712.25,549.80 L716.85,547.00 L719.05,547.00 L719.05,562.75 Z" fill="#141414"/>
<rect x="720.20" y="560.15" width="2.6" height="2.6" fill="#555"/>
<path d="M735.50,562.75 L735.50,551.00 L733.25,552.50 L733.25,549.80 L736.10,547.00 L738.30,547.00 L738.30,562.75 Z" fill="#141414"/>
<g transform="translate(41,650) rotate(-90)"><text transform="translate(1.09,-0.89) scale(0.841,1)" font-family="Liberation Sans" font-weight="bold" font-size="19.92" fill="#141414" stroke="#141414" stroke-width="0.8">6</text><rect x="12.70" y="-2.60" width="2.6" height="2.6" fill="#555"/><text transform="translate(22.15,-0.89) scale(0.697,1)" font-family="Liberation Sans" font-weight="bold" font-size="19.92" fill="#141414" stroke="#141414" stroke-width="0.8">0</text><text transform="translate(32.99,-0.70) scale(0.692,1)" font-family="Liberation Sans" font-weight="bold" font-size="20.49" fill="#141414" stroke="#141414" stroke-width="0.8">4</text></g>
<g transform="translate(38.75,454) rotate(-90)"><text transform="translate(0.32,-0.90) scale(0.951,1)" font-family="Liberation Sans" font-weight="bold" font-size="20.97" fill="#141414" stroke="#141414" stroke-width="0.8">8</text><rect x="15.20" y="-2.60" width="2.6" height="2.6" fill="#555"/><text transform="translate(23.46,-0.70) scale(0.853,1)" font-family="Liberation Sans" font-weight="bold" font-size="18.82" fill="#141414" stroke="#141414" stroke-width="0.8">4</text><text transform="translate(46.29,-0.70) scale(1.080,1)" font-family="Liberation Sans" font-weight="bold" font-size="15.88" fill="#141414" stroke="#141414" stroke-width="0.8">±</text><text transform="translate(61.07,-0.86) scale(0.955,1)" font-family="Liberation Sans" font-weight="bold" font-size="16.74" fill="#141414" stroke="#141414" stroke-width="0.8">0</text><rect x="72.70" y="-2.60" width="2.6" height="2.6" fill="#555"/><text transform="translate(80.38,-0.70) scale(0.934,1)" font-family="Liberation Sans" font-weight="bold" font-size="17.69" fill="#141414" stroke="#141414" stroke-width="0.8">2</text></g>
<g transform="translate(757.75,664) rotate(-90)"><text transform="translate(20.80,-0.89) scale(0.989,1)" font-family="Liberation Sans" font-weight="bold" font-size="19.00" fill="#141414" stroke="#141414" stroke-width="0.8">9</text><rect x="13.20" y="-2.60" width="2.6" height="2.6" fill="#555"/><text transform="translate(0.54,-0.89) scale(1.007,1)" font-family="Liberation Sans" font-weight="bold" font-size="19.00" fill="#141414" stroke="#141414" stroke-width="0.8">0</text></g>
</g>
</svg></body></html>
